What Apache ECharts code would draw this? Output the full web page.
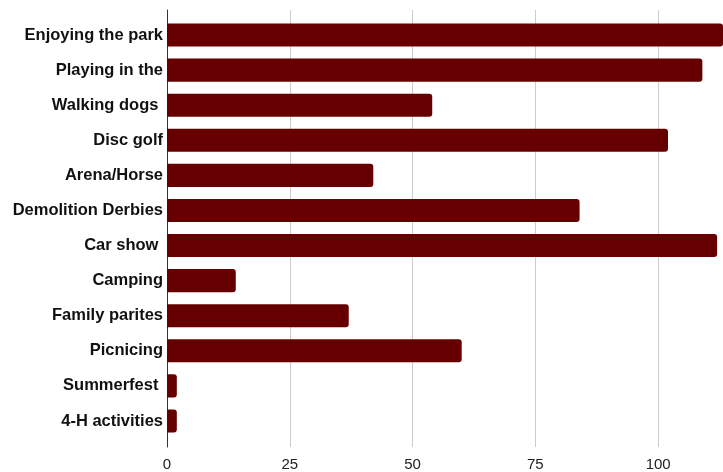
<!DOCTYPE html>
<html>
<head>
<meta charset="utf-8">
<script src="https://cdn.jsdelivr.net/npm/echarts@6/dist/echarts.min.js"></script>
<style>html,body{margin:0;padding:0;background:#fff;}#c{width:723px;height:472px;}</style>
</head>
<body>
<div id="c"></div>
<script>
const categories = ["Enjoying the park", "Playing in the", "Walking dogs ", "Disc golf", "Arena/Horse", "Demolition Derbies", "Car show ", "Camping", "Family parites", "Picnicing", "Summerfest ", "4-H activities"];
const values = [115, 109, 54, 102, 42, 84, 112, 14, 37, 60, 2, 2];
const xTicks = [0, 25, 50, 75, 100];

const chart = echarts.init(document.getElementById('c'));
chart.setOption({
  animation: false,
  grid: [
    { left: 167, right: 0, top: 10, bottom: 25, containLabel: false },
    { left: 167, right: 0, top: 17.5, bottom: 33.5, containLabel: false }
  ],
  xAxis: [{
    gridIndex: 0, type: 'value', min: 0, max: 113.2, interval: 25,
    axisLine: { show: false }, axisTick: { show: false },
    splitLine: { lineStyle: { color: '#cccccc', width: 1 } },
    axisLabel: {
      color: '#222', fontSize: 15, fontFamily: 'Liberation Sans, Arial', margin: 10,
      showMaxLabel: false,
      formatter: v => xTicks.includes(v) ? String(v) : ''
    }
  }, {
    gridIndex: 1, type: 'value', min: 0, max: 113.2, interval: 25,
    axisLine: { show: false }, axisTick: { show: false },
    splitLine: { show: false }, axisLabel: { show: false }
  }],
  yAxis: [{
    gridIndex: 0, type: 'value', min: 0, max: 1,
    axisLine: { show: true, lineStyle: { color: '#333', width: 1 } },
    axisTick: { show: false }, axisLabel: { show: false }, splitLine: { show: false }
  }, {
    gridIndex: 1, type: 'category', data: categories, inverse: true,
    axisLine: { show: false },
    axisTick: { show: false },
    axisLabel: { color: '#111', fontSize: 16.5, fontWeight: 'bold', fontFamily: 'Liberation Sans, Arial', margin: 4 }
  }],
  series: [{
    type: 'bar', xAxisIndex: 1, yAxisIndex: 1, data: values, barCategoryGap: '34%', clip: true,
    itemStyle: { color: '#660000', borderRadius: [0, 3, 3, 0] }
  }]
});
</script>
</body>
</html>
